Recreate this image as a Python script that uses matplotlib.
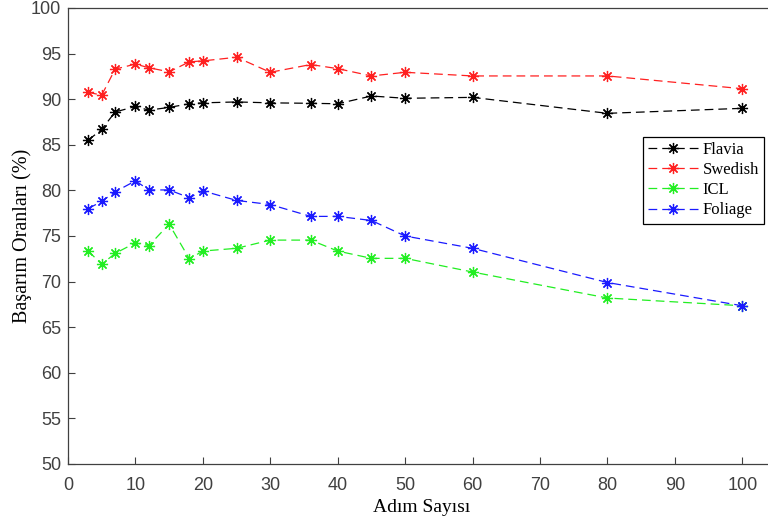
import matplotlib
matplotlib.use("Agg")
import matplotlib.pyplot as plt

# adim sayisi (x) and accuracy (%) for each dataset
steps = [3, 5, 7, 10, 12, 15, 18, 20, 25, 30, 36, 40, 45, 50, 60, 80, 100]
flavia = [85.5, 86.7, 88.6, 89.2, 88.8, 89.1, 89.5, 89.6, 89.7, 89.6, 89.55, 89.5, 90.35, 90.1, 90.2, 88.45, 89.0]
swedish = [90.75, 90.45, 93.3, 93.85, 93.45, 93.0, 94.1, 94.2, 94.6, 92.95, 93.8, 93.35, 92.55, 92.95, 92.55, 92.55, 91.15]
icl = [73.35, 71.9, 73.1, 74.25, 73.95, 76.3, 72.5, 73.35, 73.65, 74.55, 74.55, 73.35, 72.55, 72.55, 71.05, 68.2, 67.35]
foliage = [78.0, 78.8, 79.85, 81.05, 80.05, 80.05, 79.2, 79.95, 78.9, 78.45, 77.15, 77.15, 76.7, 75.0, 73.65, 69.9, 67.35]

series = [("Flavia", flavia, "black"),
          ("Swedish", swedish, "#ff2020"),
          ("ICL", icl, "#22ee22"),
          ("Foliage", foliage, "#1a1aff")]

fig = plt.figure(figsize=(7.68, 5.23), dpi=100)
ax = fig.add_axes([68 / 768, 59 / 523, (776 - 68) / 768, 456 / 523])

# matlab-style asterisk markers: + and x overlaid
for name, vals, col in series:
    ax.plot(steps, vals, linestyle=(0, (7, 4)), color=col, linewidth=0.9,
            marker=(8, 2, 0), markersize=8, markeredgewidth=0.9, label=name)

ax.set_xlim(0, 105)
ax.set_ylim(50, 100)
ax.set_xticks(range(0, 101, 10))
ax.set_yticks(range(50, 101, 5))
ax.tick_params(direction="in", length=5, width=0.8, colors="#404040",
               labelsize=13)
ax.tick_params(axis="x", pad=9)
ax.tick_params(axis="y", pad=5)
for lab in ax.get_xticklabels() + ax.get_yticklabels():
    lab.set_family("Liberation Sans")
for sp in ax.spines.values():
    sp.set_color("#404040")
    sp.set_linewidth(0.9)

ax.set_xlabel("Adım Sayısı", family="Liberation Serif", fontsize=14, labelpad=4)
ax.set_ylabel("Başarım Oranları (%)", family="Liberation Serif", fontsize=14.5, labelpad=-1)

leg = ax.legend(loc="upper right", bbox_to_anchor=(764 / 768, 1 - 137 / 523),
                bbox_transform=fig.transFigure, fancybox=False, framealpha=1,
                edgecolor="black", borderpad=0.3, labelspacing=0.25,
                handlelength=3.0, handletextpad=0.3, borderaxespad=0,
                prop={"family": "Liberation Serif", "size": 12})
leg.get_frame().set_linewidth(0.9)

fig.savefig("out.png", dpi=100)
